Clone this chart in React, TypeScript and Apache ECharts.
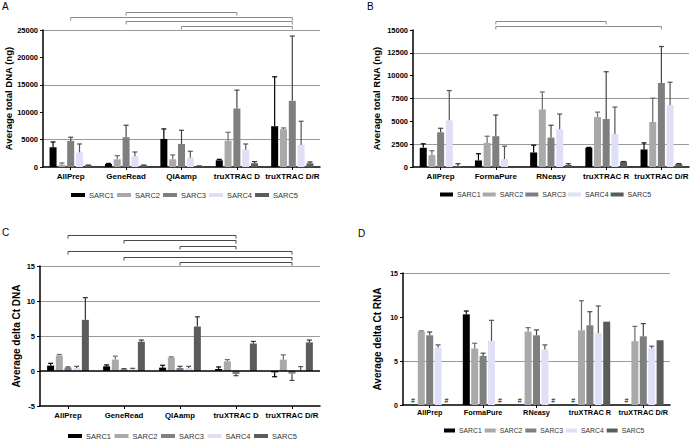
import React, { useEffect, useRef } from 'react';
import * as echarts from 'echarts';

const seriesNames = ['SARC1', 'SARC2', 'SARC3', 'SARC4', 'SARC5'];
const dnaCategories = ['AllPrep', 'GeneRead', 'QIAamp', 'truXTRAC D', 'truXTRAC D/R'];
const rnaCategories = ['AllPrep', 'FormaPure', 'RNeasy', 'truXTRAC R', 'truXTRAC D/R'];

// Panel A – Average total DNA (ng): rows = SARC1..5, columns = kits
const dnaYieldMean = [
  [3600, 550, 5120, 1220, 7440],
  [430, 1400, 1400, 4800, 6890],
  [4760, 5430, 4200, 10670, 12070],
  [2680, 1950, 1700, 3170, 4020],
  [300, 300, 180, 670, 670],
];
const dnaYieldSd = [
  [970, 100, 1830, 180, 9020],
  [300, 670, 800, 1540, 240],
  [670, 2190, 2500, 3360, 11830],
  [1520, 790, 1170, 1030, 4330],
  [50, 50, 20, 310, 245],
];

// Panel B – Average total RNA (ng)
const rnaYieldMean = [
  [2100, 720, 1590, 2100, 1920],
  [1300, 2640, 6300, 5470, 4930],
  [3800, 3370, 3220, 5250, 9200],
  [5110, 870, 4130, 3620, 6780],
  [110, 0, 220, 580, 330],
];
const rnaYieldSd = [
  [440, 730, 800, 50, 720],
  [480, 730, 1920, 540, 2610],
  [440, 2320, 1350, 5180, 3990],
  [3260, 1410, 1670, 2940, 2500],
  [250, 0, 140, 20, 50],
];

// Panel C – Average delta Ct DNA
const dnaCtMean = [
  [0.77, 0.67, 0.48, 0.29, -0.19],
  [2.21, 1.63, 1.92, 1.39, 1.63],
  [0.48, 0.24, 0.43, -0.43, -0.38],
  [0.43, 0.24, 0.43, -0.1, 0.02],
  [7.31, 4.18, 6.35, 3.94, 4.09],
];
const dnaCtSd = [
  [0.33, 0.2, 0.34, 0.29, 0.63],
  [0.15, 0.49, 0.1, 0.24, 0.68],
  [0.1, 0.1, 0.24, 0.24, 0.97],
  [0.24, 0.14, 0.24, 0, 0.61],
  [3.17, 0.24, 1.39, 0.29, 0.33],
];

// Panel D – Average delta Ct RNA (null = not detected, shown as '#')
const rnaCtMean = [
  [null, 10.3, null, null, null],
  [8.34, 6.42, 8.34, 8.49, 7.25],
  [7.92, 5.58, 7.92, 9.06, 7.81],
  [6.53, 7.28, 6.3, 8.19, 6.42],
  [null, null, null, 9.47, 7.36],
];
const rnaCtSd = [
  [null, 0.38, null, null, null],
  [0.08, 0.6, 0.45, 3.36, 1.69],
  [0.38, 0.31, 0.61, 1.54, 1.44],
  [0.3, 2.34, 0.53, 3.06, 0.26],
  [null, null, null, 0, 0],
];

// Significance brackets: [from kit index, to kit index], top to bottom
const dnaYieldBrackets = [[1, 3], [0, 4], [1, 4], [2, 4]];
const rnaYieldBrackets = [[1, 3], [1, 4]];
const dnaCtBrackets = [[0, 3], [1, 3], [2, 3], [0, 4], [1, 4], [2, 4]];

const barColors = ['#000000', '#a9a9a9', '#7f7f7f', '#dfdff7', '#5a5c5a'];
const errColors = ['#000000', '#6a6a6a', '#454545', '#555555', '#333333'];

const FONT = '"Liberation Sans", Arial, sans-serif';
const BAR_W = 7;

export default function App() {
  const ref = useRef<HTMLDivElement>(null);

  useEffect(() => {
    const chart = echarts.init(ref.current!, null, { renderer: 'svg' });

    const panels = [
      {
        cats: dnaCategories, mean: dnaYieldMean, sd: dnaYieldSd, min: 0, max: 25000, interval: 5000,
        name: 'Average total DNA (ng)', grid: { left: 43, top: 30, width: 277, height: 137 },
        nameGap: 30, nameFont: 9.5, catFont: 8, tickFont: 7.5, catMargin: 5,
        brackets: dnaYieldBrackets, bSpacing: 4.7, bColor: '#8a8a8a',
        legend: { left: 71, top: 191, iw: 14, fs: 7.5, gap: 3 }, gap: 0.26, zeroLine: false, hash: false,
      },
      {
        cats: rnaCategories, mean: rnaYieldMean, sd: rnaYieldSd, min: 0, max: 15000, interval: 2500,
        name: 'Average total RNA (ng)', grid: { left: 413, top: 30, width: 276, height: 137 },
        nameGap: 32, nameFont: 9.5, catFont: 8, tickFont: 7.5, catMargin: 5,
        brackets: rnaYieldBrackets, bSpacing: 4.6, bColor: '#8a8a8a',
        legend: { left: 440, top: 191, iw: 13, fs: 7.1, gap: 2 }, gap: 0.24, zeroLine: false, hash: false,
      },
      {
        cats: dnaCategories, mean: dnaCtMean, sd: dnaCtSd, min: -5, max: 15, interval: 5,
        name: 'Average delta Ct DNA', grid: { left: 40, top: 266, width: 280, height: 140 },
        nameGap: 19, nameFont: 10, catFont: 7.8, tickFont: 7.5, catMargin: 5,
        brackets: dnaCtBrackets, bSpacing: 5.4, bColor: '#4a4a4a',
        legend: { left: 68, top: 432, iw: 14, fs: 7.5, gap: 3.5 }, gap: 0.24, zeroLine: true, hash: false,
      },
      {
        cats: rnaCategories, mean: rnaCtMean, sd: rnaCtSd, min: 0, max: 15, interval: 5,
        name: 'Average delta Ct RNA', grid: { left: 403, top: 273, width: 267, height: 132 },
        nameGap: 21, nameFont: 10, catFont: 7.3, tickFont: 7, catMargin: 4,
        brackets: [] as number[][], bSpacing: 5, bColor: '#4a4a4a',
        legend: { left: 444, top: 427, iw: 11, fs: 6.8, gap: 3 }, gap: 0.2, zeroLine: false, hash: true,
      },
    ];

    const grids: any[] = [];
    const xAxes: any[] = [];
    const yAxes: any[] = [];
    const legends: any[] = [];
    const series: any[] = [];

    panels.forEach((p, pi) => {
      grids.push({ ...p.grid, containLabel: false });
      xAxes.push({
        type: 'category', gridIndex: pi, data: p.cats, boundaryGap: true,
        axisLine: { show: true, onZero: false, lineStyle: { color: '#000', width: 1.5 } },
        axisTick: { show: true, alignWithLabel: true, length: 3, lineStyle: { color: '#000', width: 1 } },
        axisLabel: { color: '#000', fontWeight: 'bold', fontSize: p.catFont, fontFamily: FONT, margin: p.catMargin, interval: 0 },
        splitLine: { show: false },
      });
      yAxes.push({
        type: 'value', gridIndex: pi, min: p.min, max: p.max, interval: p.interval,
        name: p.name, nameLocation: 'middle', nameGap: p.nameGap,
        nameTextStyle: { color: '#000', fontWeight: 'bold', fontSize: p.nameFont, fontFamily: FONT },
        axisLine: { show: true, lineStyle: { color: '#000', width: 1.5 } },
        axisTick: { show: true, inside: false, length: 3, lineStyle: { color: '#000', width: 1 } },
        axisLabel: {
          color: '#000', fontWeight: 'bold', fontSize: p.tickFont, fontFamily: FONT, margin: 5,
          formatter: (v: number) => String(v),
        },
        splitLine: {
          show: true,
          lineStyle: {
            color: p.min < 0 ? ['rgba(0,0,0,0)', 'rgba(0,0,0,0)', '#9a9a9a', '#9a9a9a', '#9a9a9a'] : ['rgba(0,0,0,0)', '#9a9a9a'],
            width: 1,
          },
        },
      });
      legends.push({
        data: seriesNames, left: p.legend.left, top: p.legend.top, orient: 'horizontal',
        icon: 'rect', itemWidth: p.legend.iw, itemHeight: 4, itemGap: p.legend.gap, padding: 0, selectedMode: false,
        textStyle: { fontSize: p.legend.fs, color: '#333', fontFamily: FONT, padding: [0, 0, 0, -1] },
      });

      const pitch = BAR_W * (1 + p.gap);

      p.mean.forEach((row, si) => {
        const data = row.map((v) => {
          if (v === null) {
            return p.hash
              ? { value: 0, label: { show: true, formatter: '#', position: 'top', distance: 1, fontSize: 7, color: '#000', fontFamily: FONT } }
              : 0;
          }
          return v;
        });
        const bar: any = {
          type: 'bar', name: seriesNames[si], xAxisIndex: pi, yAxisIndex: pi,
          data, barWidth: BAR_W, barGap: `${Math.round(p.gap * 100)}%`,
          itemStyle: { color: barColors[si] }, emphasis: { disabled: true },
          z: 2,
        };
        if (p.zeroLine && si === 0) {
          bar.markLine = {
            silent: true, symbol: ['none', 'none'], label: { show: false },
            lineStyle: { color: '#000', width: 1.5, type: 'solid' },
            data: [{ yAxis: 0 }],
          };
        }
        series.push(bar);

        const errData = row
          .map((v, ci) => [ci, v, p.sd[si][ci]])
          .filter((d) => d[1] !== null && d[2] !== null && (d[2] as number) > 0);
        series.push({
          type: 'custom', name: `err-${pi}-${si}`, xAxisIndex: pi, yAxisIndex: pi,
          data: errData, encode: { x: 0, y: 1 }, z: 3, silent: true,
          renderItem: (params: any, api: any) => {
            const ci = api.value(0);
            const m = api.value(1);
            const s = api.value(2);
            const dir = m < 0 ? -1 : 1;
            const base = api.coord([ci, m]);
            const tip = api.coord([ci, m + dir * s]);
            const x = base[0] + (si - 2) * pitch;
            const st = { stroke: errColors[si], lineWidth: 1.2 };
            return {
              type: 'group',
              children: [
                { type: 'line', shape: { x1: x, y1: base[1], x2: x, y2: tip[1] }, style: st },
                { type: 'line', shape: { x1: x - 2.5, y1: tip[1], x2: x + 2.5, y2: tip[1] }, style: st },
              ],
            };
          },
        });
      });

      if (p.brackets.length) {
        const n = p.brackets.length;
        series.push({
          type: 'custom', name: `brackets-${pi}`, xAxisIndex: pi, yAxisIndex: pi,
          data: p.brackets.map((b, i) => [b[0], b[1], i]), encode: { x: [0, 1] },
          clip: false, silent: true, z: 5,
          renderItem: (params: any, api: any) => {
            const a = api.value(0);
            const b = api.value(1);
            const lvl = api.value(2);
            const top = params.coordSys.y;
            const y = Math.round(top - 4 - (n - 1 - lvl) * p.bSpacing) + 0.5;
            const x1 = api.coord([a, p.max])[0];
            const x2 = api.coord([b, p.max])[0];
            return {
              type: 'polyline',
              shape: { points: [[x1, y + 3], [x1, y], [x2, y], [x2, y + 3]] },
              style: { stroke: p.bColor, fill: 'none', lineWidth: 1 },
            };
          },
        });
      }
    });

    const letterStyle = { fontSize: 10, fontFamily: FONT, fill: '#000', verticalAlign: 'top' };
    chart.setOption({
      animation: false,
      backgroundColor: '#fff',
      grid: grids,
      xAxis: xAxes,
      yAxis: yAxes,
      legend: legends,
      series,
      graphic: [
        { type: 'text', left: 2, top: 1, style: { ...letterStyle, text: 'A' } },
        { type: 'text', left: 367, top: 1, style: { ...letterStyle, text: 'B' } },
        { type: 'text', left: 2, top: 227, style: { ...letterStyle, text: 'C' } },
        { type: 'text', left: 358, top: 228, style: { ...letterStyle, text: 'D' } },
      ],
    });

    return () => chart.dispose();
  }, []);

  return (
    <div
      ref={ref}
      style={{ position: 'fixed', left: 0, top: 0, width: 694, height: 440, background: '#fff' }}
    />
  );
}
